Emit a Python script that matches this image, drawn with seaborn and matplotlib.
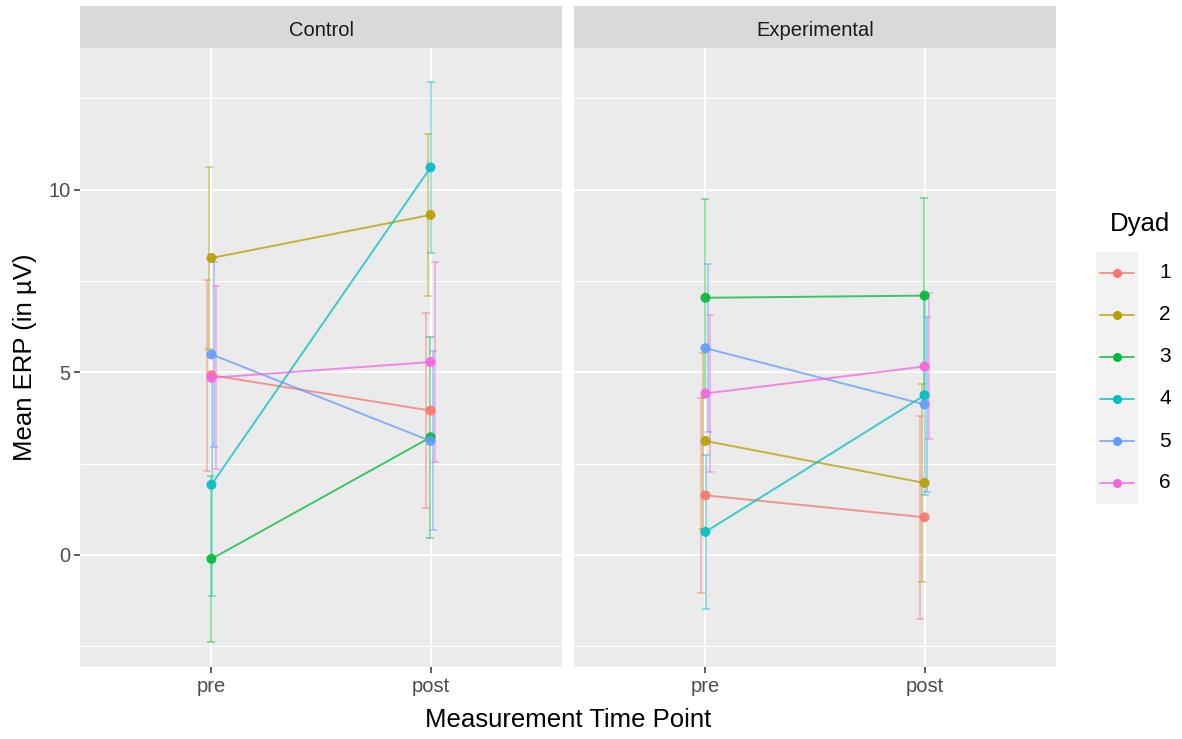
import pandas as pd
import matplotlib
matplotlib.use('Agg')
import matplotlib.pyplot as plt
from matplotlib.ticker import MultipleLocator
import seaborn as sns

dyads = ['1', '2', '3', '4', '5', '6']
times = ['pre', 'post']
groups = ['Control', 'Experimental']

control_pre = [4.92, 8.13, -0.11, 1.92, 5.49, 4.85]
control_post = [3.95, 9.31, 3.22, 10.61, 3.12, 5.28]
control_pre_err = [2.61, 2.49, 2.27, 3.04, 2.53, 2.51]
control_post_err = [2.66, 2.21, 2.76, 2.35, 2.45, 2.73]

exp_pre = [1.63, 3.12, 7.04, 0.63, 5.66, 4.42]
exp_post = [1.03, 1.97, 7.10, 4.37, 4.12, 5.16]
exp_pre_err = [2.66, 2.42, 2.71, 2.10, 2.30, 2.16]
exp_post_err = [2.78, 2.71, 2.67, 2.72, 2.40, 2.00]

colors = ['#F8766D', '#B79F00', '#00BA38', '#00BFC4', '#619CFF', '#F564E3']
palette = dict(zip(dyads, colors))

rows = []
for grp, pre, post, pre_e, post_e in [
    ('Control', control_pre, control_post, control_pre_err, control_post_err),
    ('Experimental', exp_pre, exp_post, exp_pre_err, exp_post_err),
]:
    for i, d in enumerate(dyads):
        rows.append({'Group': grp, 'Dyad': d, 'Time': 'pre', 'ERP': pre[i], 'Err': pre_e[i]})
        rows.append({'Group': grp, 'Dyad': d, 'Time': 'post', 'ERP': post[i], 'Err': post_e[i]})
df = pd.DataFrame(rows)
df['x'] = df['Time'].map({t: k for k, t in enumerate(times)})
# kleine Verschiebung der Fehlerbalken (position_dodge)
df['x_dodge'] = df['x'] + (df['Dyad'].astype(int) - 3.5) * 0.008

sns.set_theme(style='darkgrid')
plt.rcParams['font.family'] = ['Liberation Sans', 'DejaVu Sans']

W, H = 1182, 739
fig = plt.figure(figsize=(W / 100, H / 100), dpi=100)

panel_left = [80, 574]
panel_w = 482
top, bottom = 48, 667

for k, grp in enumerate(groups):
    ax = fig.add_axes([panel_left[k] / W, 1 - bottom / H, panel_w / W, (bottom - top) / H])
    ax.set_facecolor('#EBEBEB')
    sub = df[df['Group'] == grp]

    for d in dyads:
        s = sub[sub['Dyad'] == d]
        ax.errorbar(s['x_dodge'], s['ERP'], yerr=s['Err'], fmt='none',
                    ecolor=palette[d], alpha=0.45, elinewidth=1.3, capsize=3,
                    capthick=1.3, zorder=2)

    sns.lineplot(data=sub, x='x', y='ERP', hue='Dyad', palette=palette,
                 legend=False, linewidth=1.4, alpha=0.75, ax=ax, zorder=3,
                 estimator=None, sort=True)
    sns.scatterplot(data=sub, x='x', y='ERP', hue='Dyad', palette=palette,
                    legend=False, s=52, linewidth=0, alpha=0.9, ax=ax, zorder=4)

    ax.set_xlim(-0.6, 1.6)
    ax.set_ylim(-3.07, 13.88)
    ax.set_xticks([0, 1])
    ax.set_xticklabels(times)
    ax.yaxis.set_major_locator(MultipleLocator(5))
    ax.yaxis.set_minor_locator(MultipleLocator(2.5))
    ax.grid(which='major', color='white', linewidth=1.4)
    ax.grid(which='minor', axis='y', color='white', linewidth=0.7)
    ax.set_xlabel('')
    ax.set_ylabel('')
    for sp in ax.spines.values():
        sp.set_visible(False)
    ax.tick_params(which='major', bottom=True, left=(k == 0), labelleft=(k == 0),
                   length=4, width=1.1, color='#333333', labelcolor='#4D4D4D',
                   labelsize=14.5, pad=3)
    ax.tick_params(which='minor', length=0)

    # Facettenstreifen
    sax = fig.add_axes([panel_left[k] / W, 1 - top / H, panel_w / W, (top - 6) / H])
    sax.set_facecolor('#D9D9D9')
    sax.set_xticks([])
    sax.set_yticks([])
    for sp in sax.spines.values():
        sp.set_visible(False)
    sax.text(0.5, 0.42, grp, ha='center', va='center', fontsize=14.5, color='#1A1A1A',
             transform=sax.transAxes)

fig.text(568 / W, 1 - 720 / H, 'Measurement Time Point', ha='center', va='center',
         fontsize=18.5, color='black')
fig.text(25 / W, 1 - 357 / H, 'Mean ERP (in µV)', ha='center', va='center',
         rotation=90, fontsize=18.5, color='black')

# Legende
lax = fig.add_axes([1096 / W, 1 - 504 / H, 42 / W, 252 / H])
lax.set_facecolor('#F2F2F2')
lax.set_xlim(0, 1)
lax.set_ylim(len(dyads), 0)
for i, d in enumerate(dyads):
    lax.plot([0.1, 0.9], [i + 0.5, i + 0.5], color=palette[d], alpha=0.75, lw=1.4)
    lax.plot(0.5, i + 0.5, 'o', color=palette[d], ms=6.5, mec='none')
    fig.text(1165 / W, 1 - (273 + 42 * i) / H, d, ha='center', va='center',
             fontsize=15, color='black')
lax.set_xticks([])
lax.set_yticks([])
lax.grid(False)
for sp in lax.spines.values():
    sp.set_visible(False)
fig.text(1140 / W, 1 - 224 / H, 'Dyad', ha='center', va='center', fontsize=18.5, color='black')

fig.savefig('out.png', dpi=100)
